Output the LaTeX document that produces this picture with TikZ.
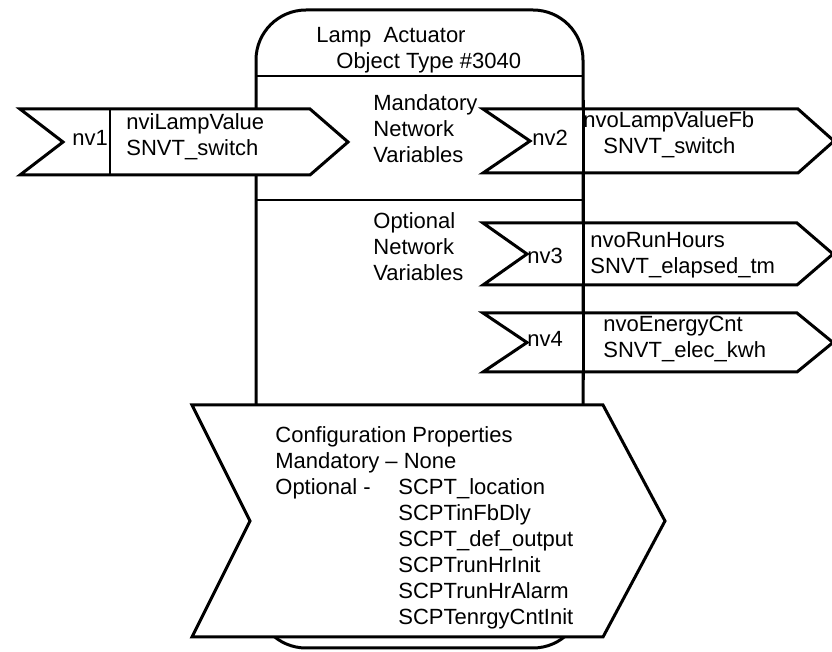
\documentclass[tikz,border=0pt]{standalone}
\usepackage{fontspec}
\setmainfont{Liberation Sans}
\usetikzlibrary{calc}
\newcommand{\lafont}{\fontsize{11}{13}\selectfont}
\tikzset{
  objframe/.style = {color=#1, line width=1.5pt},
  flag/.style = {color=#1, line width=1.5pt, fill=white},
  sep/.style = {color=#1, line width=1pt},
  txt/.style = {anchor=north west, inner sep=0pt, align=left, font=\lafont}
}
\newcommand{\nvflag}[7][]{%
  % #1: optional style (e.g. fill=gray!10)
  % #2: left x
  % #3: top y
  % #4: bottom y
  % #5: x where the tip starts
  % #6: depth of the notch on the left
  % #7: depth of the tip on the right
  \draw[flag={black}, #1] (#2,#3) -- (#5,#3) -- ({#5+#7},{(#3+#4)/2})
    -- (#5,#4) -- (#2,#4) -- ({#2+#6},{(#3+#4)/2}) -- cycle;
}
\begin{document}
\begin{tikzpicture}[x=0.5pt, y=-0.5pt]

    \useasboundingbox (0,0) rectangle (832,652);

    % Object body
    \draw[objframe={black}, rounded corners=25pt] (256,10) rectangle (583,648);
    \draw[sep={black}] (256,76) -- (583,76);
    \draw[sep={black}] (256,200) -- (583,200);

    % Input network variable
    \nvflag{20}{109}{175}{310}{43}{38}
    \draw[sep={black}] (110,109) -- (110,175);

    % Output network variables
    \nvflag{483}{109}{173}{798}{47}{36}
    \nvflag{483}{223}{285}{797}{44}{36}
    \nvflag{483}{313}{372}{797}{44}{36}
    \draw[objframe={black}] (583,100) -- (583,380);

    % Configuration properties
    \nvflag{192}{405}{637}{603}{58}{62}

    % Labels
    \node[txt] (title) at (316,27) {Lamp~~Actuator\\\hspace*{10pt}Object Type \#3040};
    \node[txt] (mand) at (373,94) {Mandatory\\Network\\Variables};
    \node[txt] (opt) at (373,212) {Optional\\Network\\Variables};

    \node[txt] (nv1) at (72,130) {nv1};
    \node[txt] (nvi1) at (126,113) {nviLampValue\\SNVT\_switch};
    \node[txt] (nv2) at (532,130) {nv2};
    \node[txt] (nvo2) at (583,111) {nvoLampValueFb\\\hspace*{10pt}SNVT\_switch};
    \node[txt] (nv3) at (527,248) {nv3};
    \node[txt] (nvo3) at (590,232) {nvoRunHours\\SNVT\_elapsed\_tm};
    \node[txt] (nv4) at (527,331) {nv4};
    \node[txt] (nvo4) at (603,316) {nvoEnergyCnt\\SNVT\_elec\_kwh};

    \node[txt] (cp) at (275,426) {Configuration Properties\\
      Mandatory -- None\\
      \makebox[61.5pt][l]{Optional -}SCPT\_location\\
      \hspace*{61.5pt}SCPTinFbDly\\
      \hspace*{61.5pt}SCPT\_def\_output\\
      \hspace*{61.5pt}SCPTrunHrInit\\
      \hspace*{61.5pt}SCPTrunHrAlarm\\
      \hspace*{61.5pt}SCPTenrgyCntInit};

\end{tikzpicture}
\end{document}
